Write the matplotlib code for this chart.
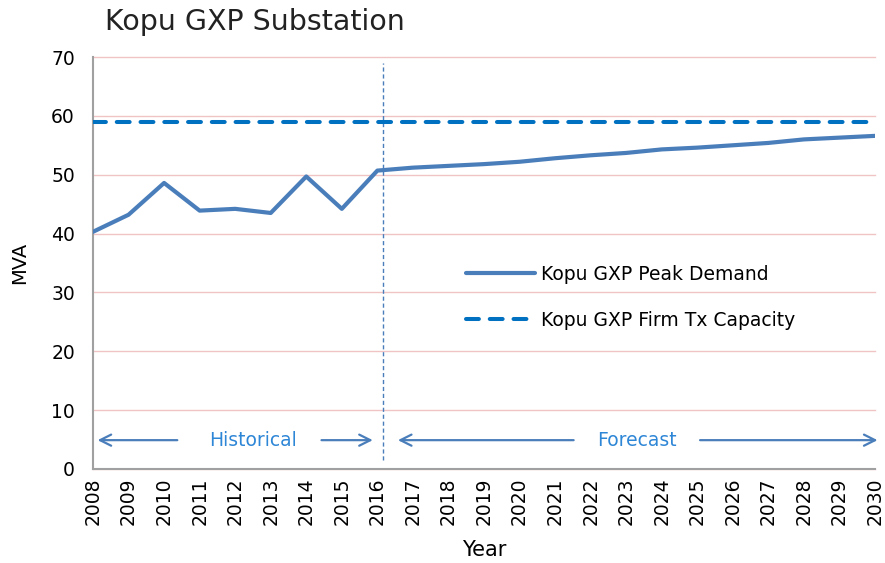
import numpy as np
import matplotlib.pyplot as plt

plt.rcParams['font.family'] = ['DejaVu Sans']

years = list(range(2008, 2031))
peak_demand = [40.3, 43.2, 48.6, 43.9, 44.2, 43.5, 49.7, 44.2, 50.7,
               51.2, 51.5, 51.8, 52.2, 52.8, 53.3, 53.7, 54.3, 54.6,
               55.0, 55.4, 56.0, 56.3, 56.6]
firm_capacity = [59.0] * len(years)

line_col = '#4A7EBB'
cap_col = '#0070C0'
txt_col = '#2E86D6'

fig = plt.figure(figsize=(8.85, 5.63), dpi=100)
ax = fig.add_axes([93 / 885, 1 - 469 / 563, 782 / 885, 412 / 563])

ax.plot(years, peak_demand, color=line_col, lw=3.0, solid_capstyle='round',
        label='Kopu GXP Peak Demand', zorder=3)
ax.plot(years, firm_capacity, color=cap_col, lw=2.9, dashes=(3.2, 2.7),
        dash_capstyle='round', label='Kopu GXP Firm Tx Capacity', zorder=3)

# historical / forecast divider
ax.plot([2016.15, 2016.15], [1.5, 69.0], color=line_col, lw=1.0,
        ls=(0, (3, 2)), zorder=2)

arrow = dict(arrowstyle='->', color=line_col, lw=1.6, mutation_scale=20)
ay = 4.9
ax.annotate('', xy=(2008.05, ay), xytext=(2010.45, ay), arrowprops=arrow,
            annotation_clip=False)
ax.annotate('', xy=(2015.95, ay), xytext=(2014.35, ay), arrowprops=arrow,
            annotation_clip=False)
ax.text(2012.5, ay, 'Historical', color=txt_col, fontsize=13.5,
        ha='center', va='center')
ax.annotate('', xy=(2016.5, ay), xytext=(2021.6, ay), arrowprops=arrow,
            annotation_clip=False)
ax.annotate('', xy=(2030.15, ay), xytext=(2025.0, ay), arrowprops=arrow,
            annotation_clip=False)
ax.text(2023.3, ay, 'Forecast', color=txt_col, fontsize=13.5,
        ha='center', va='center')

ax.set_xlim(2008, 2030)
ax.set_ylim(0, 70)
ax.set_xticks(years)
ax.set_xticklabels([str(y) for y in years], rotation=90, fontsize=13.5)
ax.set_yticks(range(0, 71, 10))
ax.tick_params(axis='y', labelsize=13.5, length=0, pad=13)
ax.tick_params(axis='x', length=0, pad=6)
ax.yaxis.grid(True, color='#F0C4C4', lw=1.0)
for gl in ax.get_ygridlines():
    gl.set_clip_on(False)
ax.set_axisbelow(True)
for s in ['top', 'right']:
    ax.spines[s].set_visible(False)
for s in ['left', 'bottom']:
    ax.spines[s].set_color('#A0A0A0')
    ax.spines[s].set_linewidth(1.5)

ax.set_ylabel('MVA', fontsize=14, labelpad=16)
ax.set_xlabel('Year', fontsize=15, labelpad=11)

ax.legend(loc='upper left', bbox_to_anchor=(0.455, 0.537), frameon=False,
          fontsize=13.5, handlelength=3.7, handletextpad=0.3,
          labelspacing=1.46)

fig.text(105 / 885, 1 - 22 / 563, 'Kopu GXP Substation', fontsize=20.5,
         color='#222222', va='center', ha='left')

fig.savefig('out.png', dpi=100)
